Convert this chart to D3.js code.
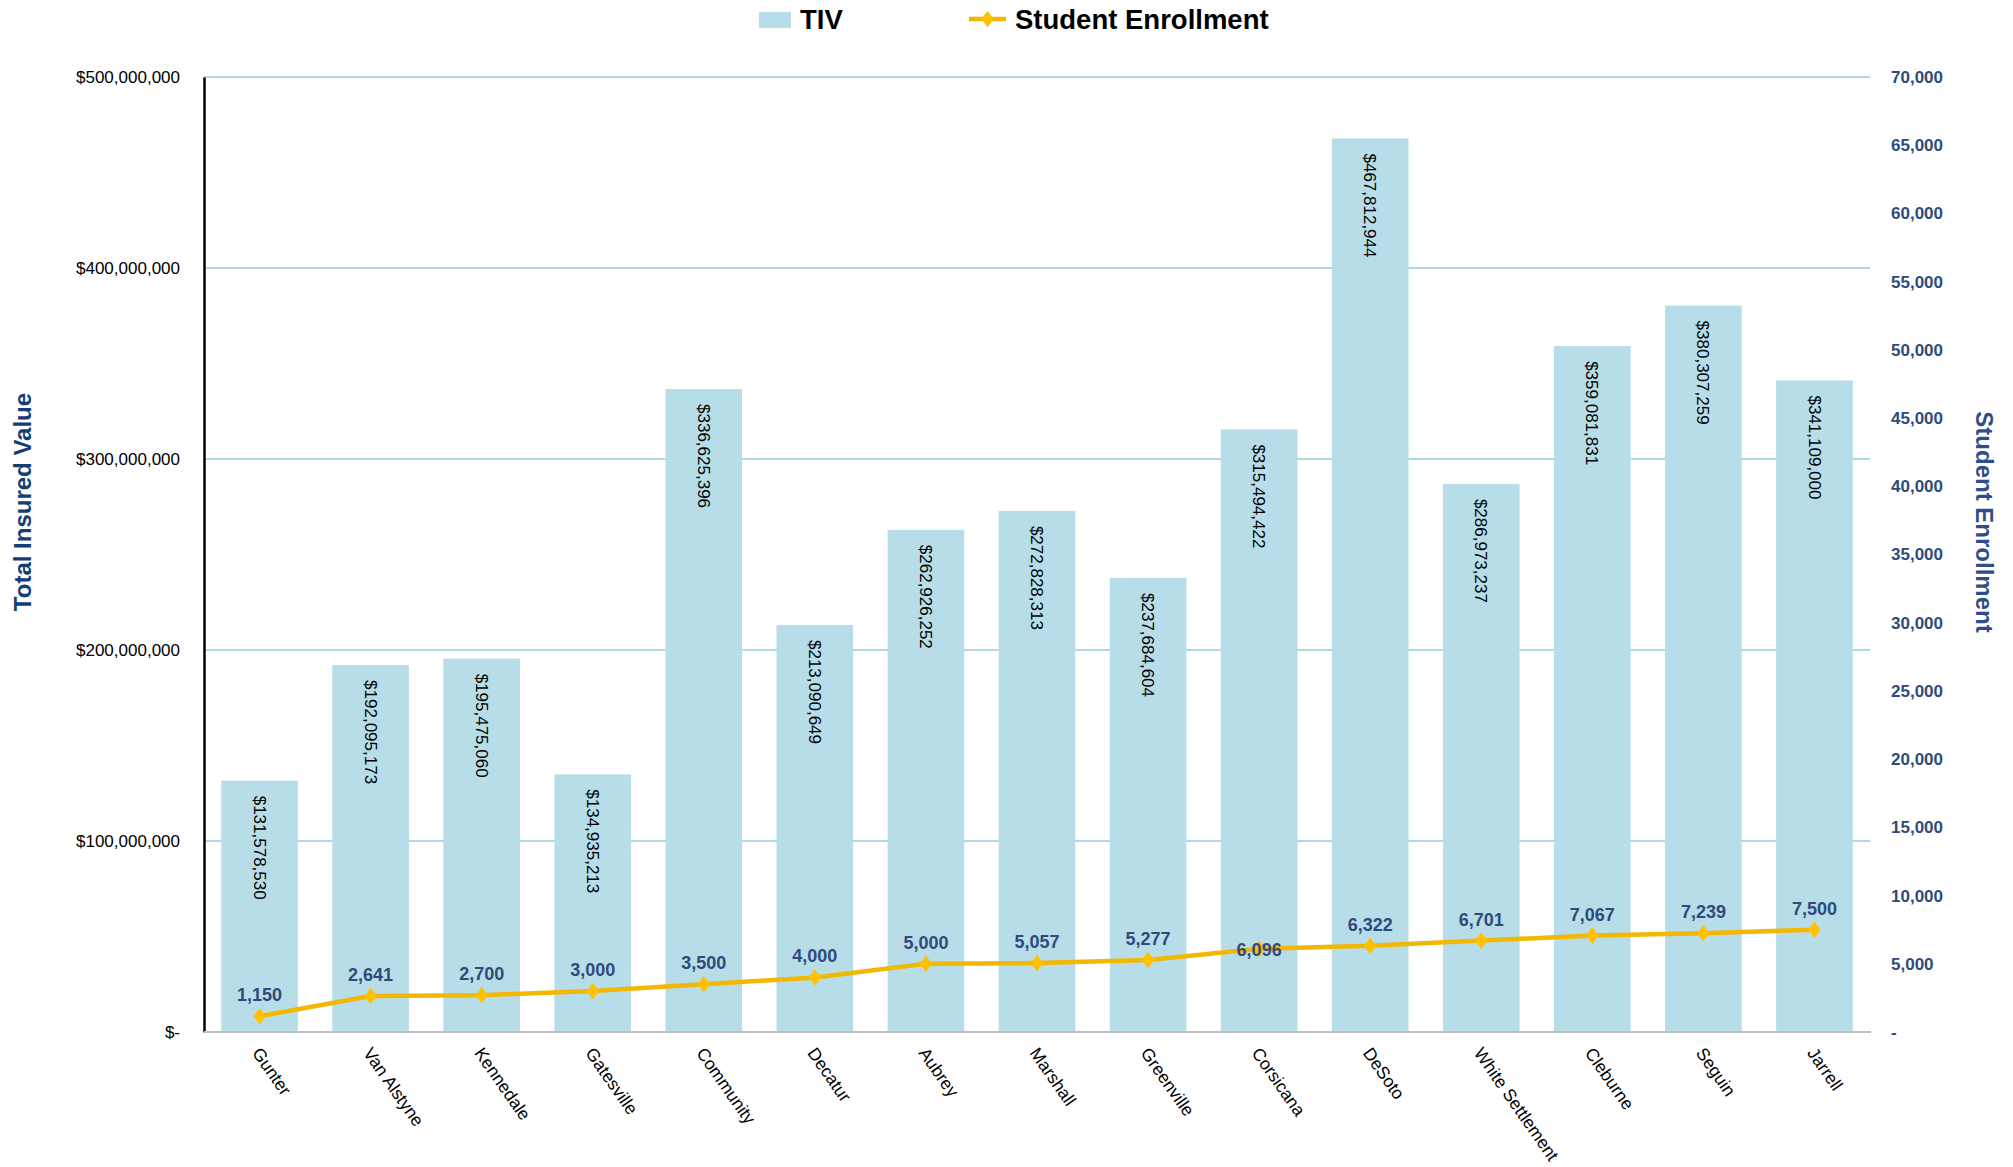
<!DOCTYPE html>
<html>
<head>
<meta charset="utf-8">
<script src="https://cdn.jsdelivr.net/npm/d3@7"></script>
<style>
  body { margin: 0; background: #fff; }
  text { font-family: Arial, "Liberation Sans", Helvetica, sans-serif; }
</style>
</head>
<body>
<div id="chart"></div>
<script>
// data
let districts = ["Gunter","Van Alstyne","Kennedale","Gatesville","Community","Decatur","Aubrey",
  "Marshall","Greenville","Corsicana","DeSoto","White Settlement","Cleburne","Seguin","Jarrell"];
let tiv = [131578530,192095173,195475060,134935213,336625396,213090649,262926252,
  272828313,237684604,315494422,467812944,286973237,359081831,380307259,341109000];
let enrollment = [1150,2641,2700,3000,3500,4000,5000,5057,5277,6096,6322,6701,7067,7239,7500];
let tivTicks = [0,100000000,200000000,300000000,400000000,500000000];
let enrollTicks = [0,5000,10000,15000,20000,25000,30000,35000,40000,45000,50000,55000,60000,65000,70000];
// Excel put this one label on the point instead of above it
let centeredLabels = ["Corsicana"];

let width = 2013, height = 1167;
let margin = {top: 77, right: 143, bottom: 135, left: 204};
let plot_w = width - margin.left - margin.right,
    plot_h = height - margin.top - margin.bottom;

let svg = d3.select("#chart").append("svg")
  .attr("width", width)
  .attr("height", height);

let g = svg.append("g")
  .attr("transform", "translate(" + margin.left + "," + margin.top + ")");

let x = d3.scaleBand().domain(districts).range([0, plot_w]).paddingInner(0.31).paddingOuter(0.155);
let yL = d3.scaleLinear().domain([0, 500000000]).range([plot_h, 0]);
let yR = d3.scaleLinear().domain([0, 70000]).range([plot_h, 0]);

let money = d3.format("$,");
let comma = d3.format(",");

// gridlines
g.selectAll(".grid").data(tivTicks.slice(1)).enter().append("line")
  .attr("x1", 0).attr("x2", plot_w)
  .attr("y1", d => yL(d)).attr("y2", d => yL(d))
  .style("stroke", "#93CDDD").style("stroke-width", 1.5);

// bars
g.selectAll(".bar").data(districts).enter().append("rect")
  .attr("x", d => x(d))
  .attr("y", (d, i) => yL(tiv[i]))
  .attr("width", x.bandwidth())
  .attr("height", (d, i) => plot_h - yL(tiv[i]))
  .style("fill", "#B7DDE8");

// bar labels, rotated
g.selectAll(".barlabel").data(districts).enter().append("text")
  .attr("transform", (d, i) => "translate(" + (x(d) + x.bandwidth() / 2) + "," + (yL(tiv[i]) + 15) + ") rotate(90)")
  .attr("dy", "0.35em")
  .style("font-size", "17px")
  .style("fill", "#000")
  .text((d, i) => money(tiv[i]));

// axes
let leftAxis = d3.axisLeft(yL).tickValues(tivTicks).tickSize(0).tickPadding(24)
  .tickFormat(d => d === 0 ? "$-" : money(d));
let la = g.append("g").call(leftAxis);
la.select(".domain").style("stroke", "#000").style("stroke-width", 2.5);
la.selectAll("text").style("font-size", "17px").style("fill", "#000");

let rightAxis = d3.axisRight(yR).tickValues(enrollTicks).tickSize(0).tickPadding(21)
  .tickFormat(d => d === 0 ? "-" : comma(d));
let ra = g.append("g").attr("transform", "translate(" + plot_w + ",0)").call(rightAxis);
ra.select(".domain").remove();
ra.selectAll("text").style("font-size", "17px").style("font-weight", "bold").style("fill", "#2F4B7C");

// baseline
g.append("line")
  .attr("x1", 0).attr("x2", plot_w + 1)
  .attr("y1", plot_h).attr("y2", plot_h)
  .style("stroke", "#BFBFBF").style("stroke-width", 2);

// category labels
g.selectAll(".cat").data(districts).enter().append("text")
  .attr("transform", d => "translate(" + (x(d) + x.bandwidth() / 2 + 2) + "," + (plot_h + 14) + ") rotate(55)")
  .attr("dy", "0.7em")
  .style("font-size", "17.5px")
  .style("fill", "#000")
  .text(d => d);

// enrollment line
let line = d3.line()
  .x(d => x(d) + x.bandwidth() / 2)
  .y((d, i) => yR(enrollment[i]));

g.append("path")
  .datum(districts)
  .attr("d", line)
  .style("fill", "none")
  .style("stroke", "#F2B700")
  .style("stroke-width", 4.5);

g.selectAll(".marker").data(districts).enter().append("path")
  .attr("d", d3.symbol().type(d3.symbolDiamond).size(110))
  .attr("transform", (d, i) => "translate(" + (x(d) + x.bandwidth() / 2) + "," + yR(enrollment[i]) + ") scale(1.1,0.85)")
  .style("fill", "#FFC000");

g.selectAll(".enlabel").data(districts).enter().append("text")
  .attr("x", d => x(d) + x.bandwidth() / 2)
  .attr("y", (d, i) => yR(enrollment[i]) + (centeredLabels.includes(d) ? 7 : -15))
  .attr("text-anchor", "middle")
  .style("font-size", "18px")
  .style("font-weight", "bold")
  .style("fill", "#2F4B7C")
  .text((d, i) => comma(enrollment[i]));

// axis titles
svg.append("text")
  .attr("transform", "translate(31,502) rotate(-90)")
  .attr("text-anchor", "middle")
  .style("font-size", "24px").style("font-weight", "bold").style("fill", "#153E75")
  .text("Total Insured Value");

svg.append("text")
  .attr("transform", "translate(1976,522) rotate(90)")
  .attr("text-anchor", "middle")
  .style("font-size", "24px").style("font-weight", "bold").style("fill", "#2E4D8A")
  .text("Student Enrollment");

// legend
let legend = svg.append("g");
legend.append("rect").attr("x", 759).attr("y", 12).attr("width", 32).attr("height", 16).style("fill", "#B7DDE8");
legend.append("text").attr("x", 800).attr("y", 29)
  .style("font-size", "27.5px").style("font-weight", "bold").text("TIV");
legend.append("line").attr("x1", 969).attr("x2", 1006).attr("y1", 19).attr("y2", 19)
  .style("stroke", "#F2B700").style("stroke-width", 4.5);
legend.append("path")
  .attr("d", d3.symbol().type(d3.symbolDiamond).size(110))
  .attr("transform", "translate(987.5,19) scale(1.1,0.85)")
  .style("fill", "#FFC000");
legend.append("text").attr("x", 1015).attr("y", 29)
  .style("font-size", "27.5px").style("font-weight", "bold").text("Student Enrollment");
</script>
</body>
</html>
